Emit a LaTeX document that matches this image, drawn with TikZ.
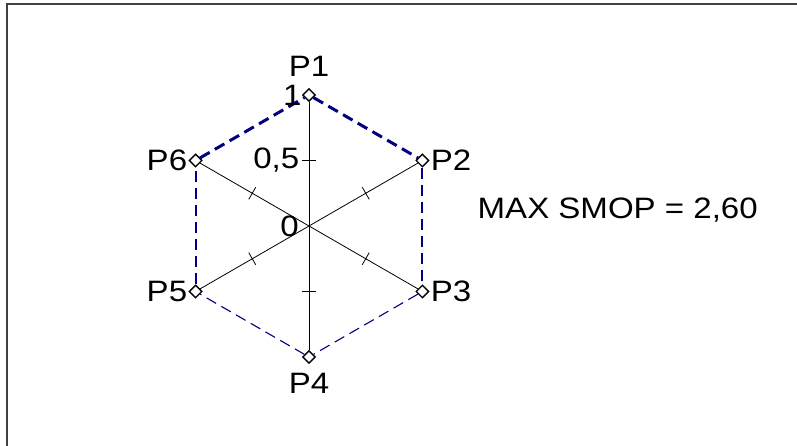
\documentclass[tikz,border=0pt]{standalone}
\usepackage{fontspec}
\setmainfont[FakeStretch=1.12]{Liberation Sans}
\usepackage{xcolor}
\usetikzlibrary{shapes.geometric,positioning}
\definecolor{smopnavy}{RGB}{0,0,128}

\begin{document}
\begin{tikzpicture}[x=1pt,y=1pt,
    pmark/.style={diamond,draw,fill=white,line width=1.4pt,inner sep=0pt,minimum size=13pt},
    lbl/.style={font=\fontsize{29.5}{31}\selectfont,inner sep=1pt},
    hexedge/.style={smopnavy,dash pattern=on 11pt off 6pt}]
\useasboundingbox (0,0) rectangle (797,446);
\draw[line width=1.6pt,black!75] (7,0) -- (7,442) -- (797,442);

\coordinate (O) at (309,220);
\begin{scope}[shift={(O)}]
    \node[pmark] (P1) at (90:131) {};
    \node[pmark] (P2) at (30:131) {};
    \node[pmark] (P3) at (-30:131) {};
    \node[pmark] (P4) at (-90:131) {};
    \node[pmark] (P5) at (210:131) {};
    \node[pmark] (P6) at (150:131) {};
    \coordinate (T1) at (90:65.5);
    % ticks at 0,5
    \foreach \a in {90,30,-30,-90,210,150}
        \draw[line width=0.8pt] (\a:65.5) ++(\a+90:7) -- ++(\a-90:14);
\end{scope}

\draw[line width=0.8pt] (P1) -- (P4);
\draw[line width=0.8pt] (P2) -- (P5);
\draw[line width=0.8pt] (P3) -- (P6);

\draw[hexedge,line width=3pt] (P6) -- (P1) -- (P2);
\draw[hexedge,line width=2pt] (P2) -- (P3);
\draw[hexedge,line width=1.1pt] (P3) -- (P4) -- (P5);
\draw[hexedge,line width=2pt] (P5) -- (P6);

\node[lbl,above=10.5pt of P1] (L1) {P1};
\node[lbl,right=0pt of P2] (L2) {P2};
\node[lbl,right=0pt of P3] (L3) {P3};
\node[lbl,below=7.5pt of P4] (L4) {P4};
\node[lbl,left=0pt of P5] (L5) {P5};
\node[lbl,left=0pt of P6] (L6) {P6};
\node[lbl,left=-1pt of P1] (S1) {1};
\node[lbl,left=8.5pt of T1] (S05) {0,5};
\node[lbl,left=9pt of O] (S0) {0};
\node[lbl,anchor=west] (smop) at (476.5,236) {MAX SMOP = 2,60};
\end{tikzpicture}
\end{document}
